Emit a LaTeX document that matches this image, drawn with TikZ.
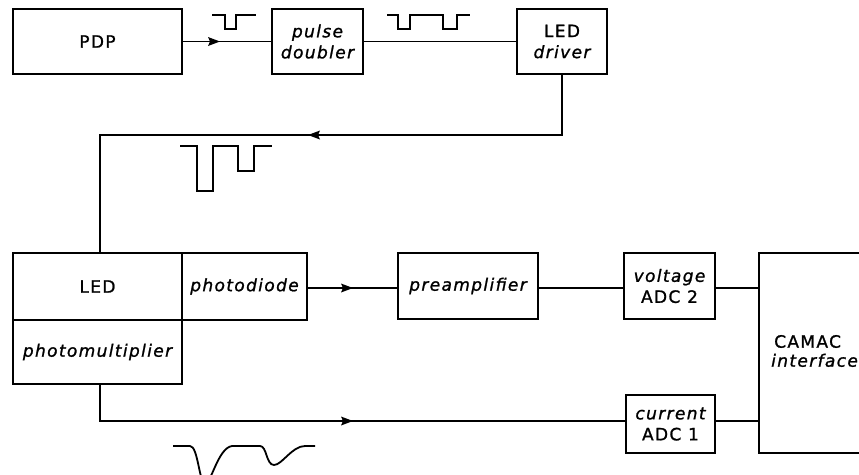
\documentclass[tikz,border=0pt]{standalone}
\usepackage{fontspec}
\setmainfont{DejaVu Sans}[LetterSpace=8,FakeBold=1.2]
\usetikzlibrary{arrows.meta}
\begin{document}
\begin{tikzpicture}[x=1pt,y=-1pt,
  blk/.style={draw,line width=1.5pt,inner sep=0pt,outer sep=0pt,align=center,
    font=\fontsize{17}{21}\selectfont},
  lbl/.style={inner sep=0pt,align=left,font=\fontsize{17}{22}\selectfont},
  wire/.style={line width=1.4pt},
  pulse/.style={line width=1.8pt,line join=miter}]
\useasboundingbox (0,0) rectangle (859,474);
% blocks
\node[blk,minimum width=169pt,minimum height=65pt] (pdp) at (97.5,41.5) {PDP};
\node[blk,minimum width=91pt,minimum height=65pt] (dbl) at (317.5,41.5) {\itshape pulse\\\itshape doubler};
\node[blk,minimum width=90pt,minimum height=65pt] (drv) at (562,41.5) {LED\\\itshape driver};
\node[blk,minimum width=169pt,minimum height=67pt] (led) at (97.5,286.5) {LED};
\node[blk,minimum width=169pt,minimum height=64pt] (pm) at (97.5,352) {\itshape photomultiplier};
\node[blk,minimum width=125pt,minimum height=67pt] (pd) at (244.5,286.5) {\itshape photodiode};
\node[blk,minimum width=140pt,minimum height=66pt] (pre) at (468,286) {\itshape preamplifier};
\node[blk,minimum width=91pt,minimum height=66pt] (adc2) at (669.5,286) {\itshape voltage\\ADC 2};
\node[blk,minimum width=89pt,minimum height=58pt] (adc1) at (670.5,424) {\itshape current\\ADC 1};
\node[blk,minimum width=141pt,minimum height=200pt] (camac) at (829.5,353) {};
\node[lbl,anchor=west] (camactext) at (771,351) {\hspace*{3pt}CAMAC\\[-3pt]\itshape interface};
% connectors
\coordinate (a1) at (220,41.5);
\draw[wire] (pdp.east) -- (dbl.west);
\fill (a1) -- ++(-12,-4.5) -- ++(2,4.5) -- ++(-2,4.5) -- cycle;
\draw[wire] (dbl.east) -- (drv.west);
\coordinate (a2) at (308,135);
\coordinate (k1) at (100,135);
\draw[wire] (drv.south) |- (k1) -- (k1 |- led.north);
\fill (a2) -- ++(12,-4.5) -- ++(-2,4.5) -- ++(2,4.5) -- cycle;
\coordinate (a3) at (353,288);
\draw[wire] (pd.east |- a3) -- (a3 -| pre.west);
\fill (a3) -- ++(-12,-4.5) -- ++(2,4.5) -- ++(-2,4.5) -- cycle;
\draw[wire] (pre.east |- a3) -- (adc2.west |- a3);
\draw[wire] (adc2.east |- a3) -- (camac.west |- a3);
\coordinate (k2) at (100,421);
\coordinate (a4) at (353,421);
\draw[wire] (k2 |- pm.south) -- (k2) -- (a4 -| adc1.west);
\fill (a4) -- ++(-12,-4.5) -- ++(2,4.5) -- ++(-2,4.5) -- cycle;
\draw[wire] (adc1.east |- a4) -- (camac.west |- a4);
% pulse shapes
\draw[pulse] (212,15) -- (225,15) -- (225,29) -- (236,29) -- (236,15) -- (256,15);
\draw[pulse] (387,15) -- (398,15) -- (398,29) -- (410,29) -- (410,15) -- (443,15) -- (443,29) -- (457,29) -- (457,15) -- (470,15);
\draw[pulse] (180,146) -- (197,146) -- (197,191) -- (213,191) -- (213,146) -- (238,146) -- (238,171) -- (254,171) -- (254,146) -- (272,146);
\draw[pulse] (173,446) -- (190,446) .. controls (198,446) and (199,482) .. (205,484)
  .. controls (211,484) and (218,448) .. (232,446) -- (260,446)
  .. controls (267,446) and (266,465) .. (274,465)
  .. controls (282,465) and (292,446) .. (305,446) -- (315,446);
\end{tikzpicture}
\end{document}
